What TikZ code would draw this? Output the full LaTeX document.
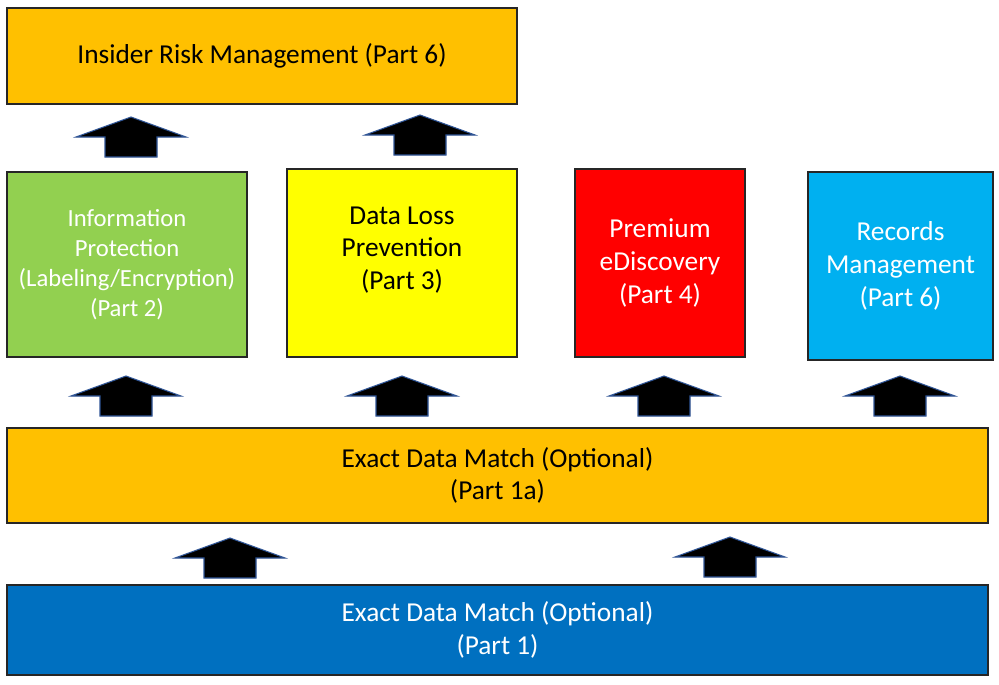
\documentclass[tikz,border=0pt]{standalone}
\usepackage{fontspec}
\setmainfont{Carlito}
\usetikzlibrary{positioning}
\definecolor{amber}{HTML}{FFC000}
\definecolor{leaf}{HTML}{92D050}
\definecolor{lemon}{HTML}{FFFF00}
\definecolor{signal}{HTML}{FF0000}
\definecolor{sky}{HTML}{00B0F0}
\definecolor{ocean}{HTML}{0070C0}
\definecolor{rim}{HTML}{2F5597}
\tikzset{
  box/.style={draw=black!85, line width=1.2pt, align=center, inner sep=0pt,
    font=\fontsize{20.5}{24.5}\selectfont},
  liftarrow/.style={fill=black, draw=rim, line width=0.8pt, line join=miter}
}
\begin{document}
\begin{tikzpicture}[x=0.75pt,y=-0.75pt]
            \useasboundingbox (0,0) rectangle (999,685);
            % top layer
            \node[box, fill=amber, minimum width=382.5pt, minimum height=72pt] (irm) at (262,56) {Insider Risk Management (Part 6)};

            % solution boxes
            \node[box, fill=leaf, text=white, minimum width=180pt, minimum height=138.75pt,
                  font=\fontsize{18.5}{22.5}\selectfont] (mip) at (127,264.5)
                  {Information\\Protection\\(Labeling/Encryption)\\(Part 2)};
            \node[box, fill=lemon, minimum width=172.5pt, minimum height=141pt] (dlp) at (402,263) {};
            \node[box, draw=none, fill=none] (dlptext) at (402,250) {Data Loss\\Prevention\\(Part 3)};
            \node[box, fill=signal, text=white, minimum width=127.5pt, minimum height=141pt] (edisc) at (660,263)
                  {Premium\\eDiscovery\\(Part 4)};
            \node[box, fill=sky, text=white, minimum width=138.75pt, minimum height=141pt] (rec) at (900.5,266)
                  {Records\\Management\\(Part 6)};

            % base layers
            \node[box, fill=amber, minimum width=735.75pt, minimum height=71.25pt] (edma) at (497.5,475.5)
                  {Exact Data Match (Optional)\\(Part 1a)};
            \node[box, fill=ocean, text=white, minimum width=735.75pt, minimum height=67.5pt] (edm) at (497.5,630)
                  {Exact Data Match (Optional)\\(Part 1)};

            % block arrows (centre x / tip y)
            \foreach \cx/\ty in {131/117, 420/115, 126/376, 402/376, 664/376, 900/376, 230/538, 730/537}
            {
            \draw[liftarrow] (\cx,\ty) -- ++(55,20) -- ++(-29,0) -- ++(0,20) -- ++(-52,0)
                  -- ++(0,-20) -- ++(-29,0) -- cycle;
            }
\end{tikzpicture}
\end{document}
